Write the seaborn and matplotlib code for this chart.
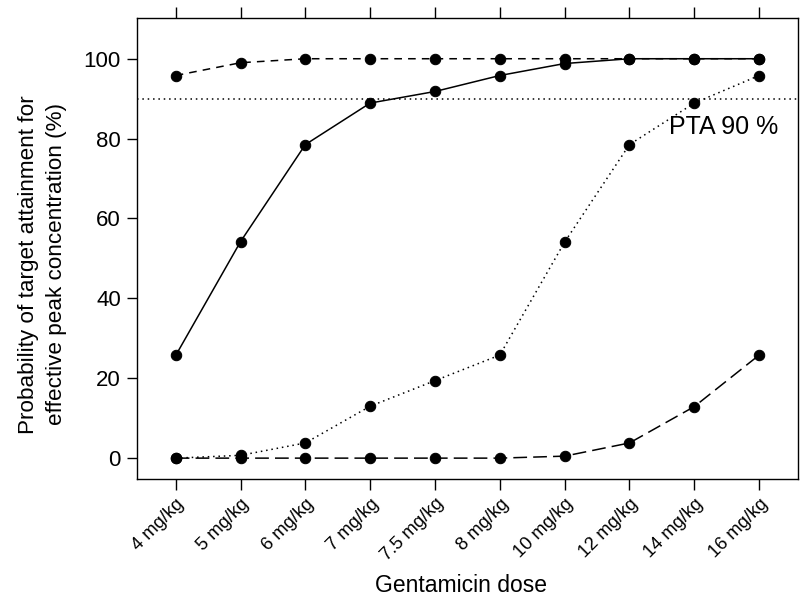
import matplotlib
matplotlib.use("Agg")
import matplotlib.pyplot as plt
import seaborn as sns
import pandas as pd
import numpy as np

doses = ["4 mg/kg", "5 mg/kg", "6 mg/kg", "7 mg/kg", "7.5 mg/kg", "8 mg/kg",
         "10 mg/kg", "12 mg/kg", "14 mg/kg", "16 mg/kg"]
series_dashed = [95.8, 99.0, 100, 100, 100, 100, 100, 100, 100, 100]
series_solid = [25.7, 54.2, 78.5, 88.9, 91.8, 95.8, 98.8, 100, 100, 100]
series_dotted = [0.0, 0.7, 3.8, 13.0, 19.4, 25.8, 54.1, 78.5, 88.9, 95.8]
series_longdash = [0.0, 0.0, 0.0, 0.0, 0.0, 0.0, 0.5, 3.8, 12.9, 25.8]
pta_target = 90

sns.set_theme(style="white")
plt.rcParams["font.family"] = ["Liberation Sans", "DejaVu Sans"]
plt.rcParams["text.color"] = "black"
plt.rcParams["xtick.color"] = "black"
plt.rcParams["ytick.color"] = "black"
plt.rcParams["axes.labelcolor"] = "black"

fig = plt.figure(figsize=(8, 6), dpi=100)
ax = fig.add_axes([0.171, 0.2025, 0.8265, 0.7675])

pos = np.arange(len(doses))
styles = [
    (series_dashed, (5, 4)),
    (series_solid, None),
    (series_dotted, (1, 2.5)),
    (series_longdash, (9, 4)),
]
for vals, dash in styles:
    df = pd.DataFrame({"pos": pos, "val": vals})
    kw = dict(color="black", linewidth=1.1, marker="o", markersize=7.5,
              markeredgecolor="black", markerfacecolor="black")
    sns.lineplot(data=df, x="pos", y="val", ax=ax, **kw)
    l = ax.lines[-1]
    if dash is not None:
        l.set_dashes(dash)

ax.axhline(pta_target, color="black", linewidth=1.1, linestyle=(0, (1, 2.5)))
ax.text(9.3, 83.0, "PTA 90 %", ha="right", va="center", fontsize=18, color="black")

ax.set_xlim(-0.6, 9.6)
ax.set_ylim(-5.1, 110.2)
ax.set_xticks(pos)
ax.set_xticklabels(doses, rotation=45, ha="right", rotation_mode="anchor", fontsize=13.2)
ax.set_yticks([0, 20, 40, 60, 80, 100])
ax.set_yticklabels(["0", "20", "40", "60", "80", "100"], fontsize=16)
ax.tick_params(axis="x", which="both", bottom=True, top=True, direction="out",
               length=8, width=1, color="black", pad=4)
ax.tick_params(axis="y", which="both", left=True, right=False, direction="out",
               length=7.5, width=1, color="black", pad=4)
for s in ax.spines.values():
    s.set_color("black")
    s.set_linewidth(1.0)

ax.set_xlabel("Gentamicin dose", fontsize=16.5)
ax.xaxis.set_label_coords(0.49, -0.208)
ax.set_ylabel("Probability of target attainment for\neffective peak concentration (%)",
              fontsize=16.2, linespacing=1.45)
ax.yaxis.set_label_coords(-0.106, 0.465)

fig.savefig("out.png", dpi=100)
